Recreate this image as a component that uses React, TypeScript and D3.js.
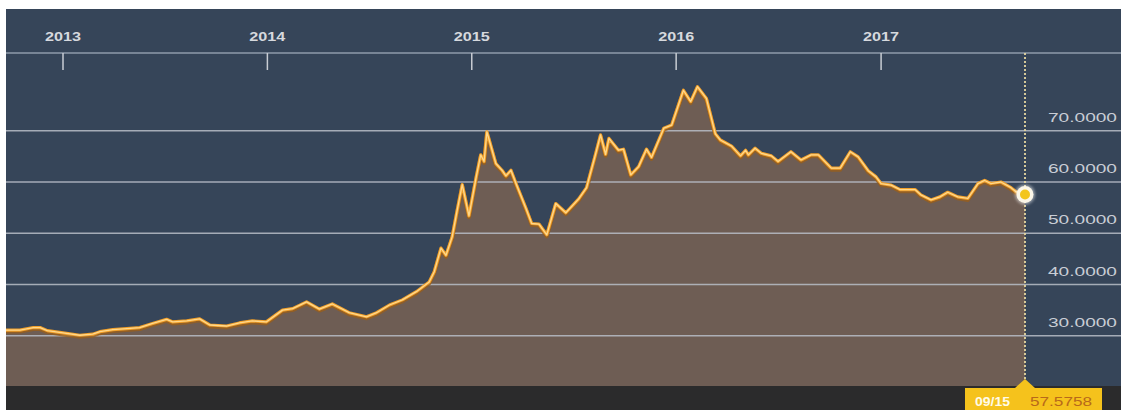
import React from "react";
import * as d3 from "d3";

const dates: string[] = [
  "2012-09-21","2012-10-16","2012-11-09","2012-11-21","2012-12-04","2012-12-29",
  "2013-01-31","2013-02-23","2013-03-08","2013-03-31","2013-04-25","2013-05-18",
  "2013-06-10","2013-07-05","2013-07-16","2013-08-10","2013-09-02","2013-09-20",
  "2013-10-20","2013-11-12","2013-12-05","2013-12-30",
  "2014-01-28","2014-02-15","2014-03-12","2014-04-04","2014-04-27","2014-05-27",
  "2014-06-27","2014-07-15","2014-08-07","2014-08-30","2014-09-24","2014-10-17",
  "2014-10-26","2014-11-07","2014-11-16","2014-11-27","2014-12-06","2014-12-15",
  "2014-12-27",
  "2015-01-09","2015-01-17","2015-01-23","2015-01-28","2015-02-13","2015-02-24",
  "2015-03-03","2015-03-12","2015-03-21","2015-04-08","2015-04-18","2015-05-01",
  "2015-05-15","2015-05-31","2015-06-18","2015-07-11","2015-07-25","2015-08-10",
  "2015-08-19","2015-08-28","2015-09-03","2015-09-20","2015-09-29","2015-10-12",
  "2015-10-26","2015-11-09","2015-11-18","2015-12-10","2015-12-24",
  "2016-01-14","2016-01-27","2016-02-08","2016-02-24","2016-03-11","2016-03-20",
  "2016-04-09","2016-04-25","2016-05-04","2016-05-09","2016-05-21","2016-06-01",
  "2016-06-19","2016-07-01","2016-07-24","2016-08-11","2016-08-29","2016-09-11",
  "2016-10-04","2016-10-20","2016-11-07","2016-11-21","2016-12-09","2016-12-23",
  "2017-01-01","2017-01-19","2017-02-04","2017-03-03","2017-03-13","2017-03-31",
  "2017-04-16","2017-04-30","2017-05-18","2017-06-05","2017-06-23","2017-07-05",
  "2017-07-16","2017-08-03","2017-08-21","2017-08-30","2017-09-15",
];

const values: number[] = [
  31.1, 31.1, 31.6, 31.6, 31.0, 30.6,
  30.1, 30.3, 30.8, 31.2, 31.4, 31.6,
  32.4, 33.2, 32.7, 32.9, 33.3, 32.1,
  31.9, 32.5, 32.9, 32.7,
  35.0, 35.3, 36.6, 35.2, 36.2, 34.5,
  33.7, 34.5, 36.0, 37.0, 38.6, 40.5,
  42.5, 47.1, 45.7, 49.3, 54.5, 59.5,
  53.4,
  61.0, 65.3, 64.0, 69.8, 63.6, 62.3,
  61.2, 62.3, 59.7, 54.8, 51.9, 51.8,
  49.7, 55.8, 54.0, 56.7, 58.9, 65.4,
  69.2, 65.4, 68.5, 66.2, 66.4, 61.4,
  63.0, 66.4, 64.8, 70.5, 71.1,
  77.9, 75.7, 78.6, 76.3, 69.4, 68.2,
  67.0, 65.1, 66.2, 65.3, 66.6, 65.6,
  65.1, 64.0, 65.9, 64.3, 65.3, 65.3,
  62.7, 62.7, 65.9, 64.9, 62.2, 61.0,
  59.7, 59.4, 58.5, 58.5, 57.5, 56.5,
  57.1, 58.0, 57.1, 56.8, 59.7, 60.3,
  59.7, 60.0, 58.9, 58.1, 57.5758,
];

const yTicks: number[] = [30, 40, 50, 60, 70];
const yearTicks: string[] = ["2013", "2014", "2015", "2016", "2017"];
const lastDateLabel = "09/15";
const lastValueLabel = "57.5758";

const W = 1121;
const H = 410;

export default function App() {
  const parse = d3.timeParse("%Y-%m-%d");
  const data = dates.map((d, i) => ({ date: parse(d) as Date, v: values[i] }));

  const x = d3
    .scaleTime()
    .domain([parse("2013-01-01") as Date, parse("2017-09-15") as Date])
    .range([63, 1025]);
  const y = d3.scaleLinear().domain([20, 80]).range([387, 79.5]);

  const plotLeft = 6;
  const plotTop = 9;
  const plotBottom = 386;

  const area = d3
    .area<{ date: Date; v: number }>()
    .x((d) => x(d.date))
    .y0(y(20))
    .y1((d) => y(d.v));
  const line = d3
    .line<{ date: Date; v: number }>()
    .x((d) => x(d.date))
    .y((d) => y(d.v));

  const last = data[data.length - 1];
  const lx = x(last.date);
  const ly = y(last.v);

  const font = "'Liberation Sans', Arial, sans-serif";

  return (
    <svg
      width={W}
      height={H}
      style={{ position: "absolute", left: 0, top: 0, display: "block" }}
    >
      <defs>
        <clipPath id="plotclip">
          <rect x={plotLeft} y={plotTop} width={W - plotLeft} height={plotBottom - plotTop} />
        </clipPath>
        <filter id="glow" x="-50%" y="-50%" width="200%" height="200%">
          <feGaussianBlur stdDeviation="1.5" />
        </filter>
      </defs>
      <rect x={0} y={0} width={W} height={H} fill="#ffffff" />
      <rect x={plotLeft} y={plotTop} width={W - plotLeft} height={plotBottom - plotTop} fill="#364559" />

      <g clipPath="url(#plotclip)">
        <path d={area(data) || ""} fill="#6e5d54" />
        {yTicks.map((t) => (
          <line
            key={t}
            x1={plotLeft}
            x2={W}
            y1={y(t)}
            y2={y(t)}
            stroke="#b9bec8"
            strokeWidth={1.6}
            opacity={0.85}
          />
        ))}
        <path
          d={line(data) || ""}
          fill="none"
          stroke="#9a5f1a"
          strokeWidth={4}
          transform="translate(0,1.5)"
          opacity={0.8}
          strokeLinejoin="round"
        />
        <path d={line(data) || ""} fill="none" stroke="#f2a02a" strokeWidth={3.2} strokeLinejoin="round" />
        <path d={line(data) || ""} fill="none" stroke="#ffd88c" strokeWidth={1.3} strokeLinejoin="round" />
      </g>

      {/* top axis */}
      <line x1={plotLeft} x2={W} y1={53} y2={53} stroke="#8f9bab" strokeWidth={1.5} />
      {yearTicks.map((yr) => {
        const tx = x(parse(`${yr}-01-01`) as Date);
        return (
          <g key={yr}>
            <line x1={tx} x2={tx} y1={53} y2={70} stroke="#c9cdd4" strokeWidth={1.5} />
            <text
              x={tx}
              y={41}
              textAnchor="middle"
              fill="#d6d9de"
              fontFamily={font}
              fontSize={12}
              fontWeight="bold"
              textLength={36}
              lengthAdjust="spacingAndGlyphs"
            >
              {yr}
            </text>
          </g>
        );
      })}

      {yTicks.map((t) => (
        <text
          key={t}
          x={1117}
          y={y(t) - 9}
          textAnchor="end"
          fill="#c9cdd5"
          fontFamily={font}
          fontSize={13}
          textLength={69}
          lengthAdjust="spacingAndGlyphs"
        >
          {t.toFixed(4)}
        </text>
      ))}

      {/* vertical dotted marker */}
      <line
        x1={lx}
        x2={lx}
        y1={53}
        y2={plotBottom - 4}
        stroke="#e6d7a0"
        strokeWidth={1.8}
        strokeDasharray="2,2"
      />

      {/* bottom strip */}
      <rect x={plotLeft} y={plotBottom} width={W - plotLeft} height={H - plotBottom} fill="#2b2b2c" />

      {/* end point */}
      <circle cx={lx} cy={ly} r={10} fill="#ffffff" opacity={0.5} filter="url(#glow)" />
      <circle cx={lx} cy={ly} r={8.5} fill="#fbf6e8" />
      <circle cx={lx} cy={ly} r={5} fill="#f3c51c" />

      {/* callout */}
      <path
        d={`M${lx - 10},${plotBottom + 2} L${lx},${plotBottom - 7} L${lx + 10},${plotBottom + 2} Z`}
        fill="#f5c21c"
      />
      <rect x={lx - 60} y={plotBottom + 2} width={137} height={H - plotBottom - 2} fill="#f5c21c" />
      <text
        x={lx - 50}
        y={406}
        fill="#fffbe8"
        fontFamily={font}
        fontSize={12}
        fontWeight="bold"
        textLength={35}
        lengthAdjust="spacingAndGlyphs"
      >
        {lastDateLabel}
      </text>
      <text
        x={lx + 5}
        y={406}
        fill="#b8691a"
        fontFamily={font}
        fontSize={13}
        textLength={62}
        lengthAdjust="spacingAndGlyphs"
      >
        {lastValueLabel}
      </text>
    </svg>
  );
}
